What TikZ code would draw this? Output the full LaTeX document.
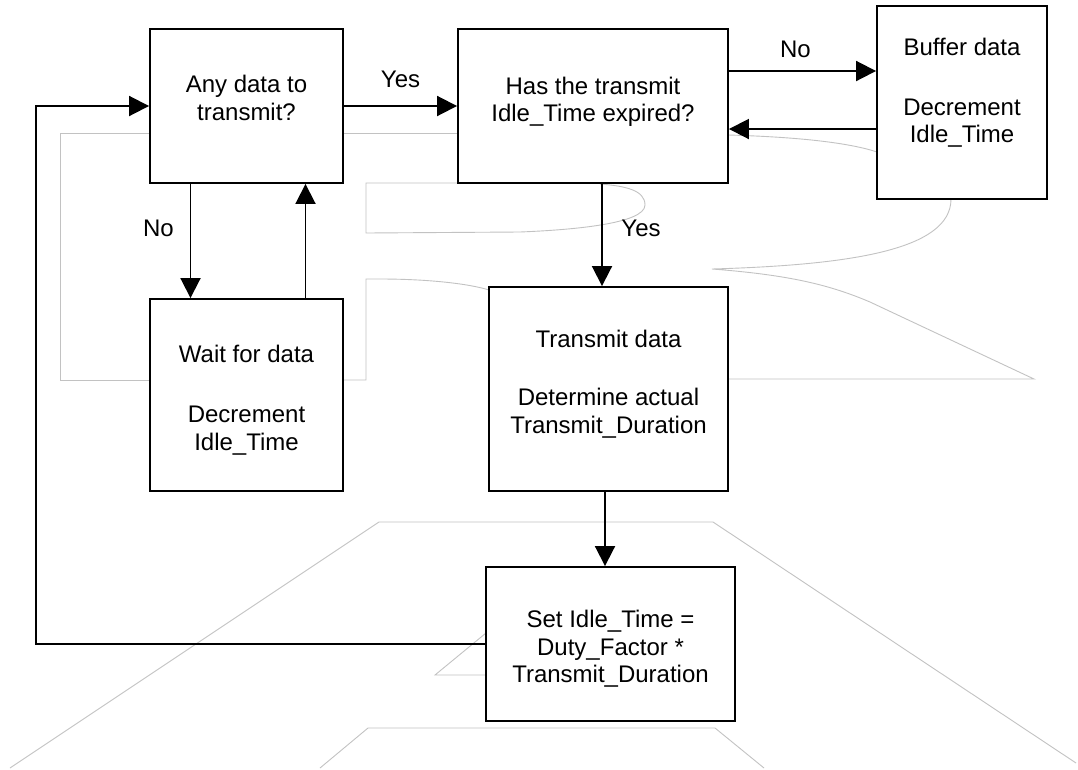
\documentclass[tikz,border=0pt]{standalone}
\usepackage{fontspec}
\setmainfont{Liberation Sans}
\usetikzlibrary{arrows.meta,positioning}

\begin{document}
\begin{tikzpicture}[x=1pt,y=-1pt,>={Triangle[length=20pt,width=20pt]},line width=1.9pt,
  font=\fontsize{24}{27.5}\selectfont,
  box/.style={draw,fill=white,inner sep=0pt},
  txt/.style={align=center},
  ghost/.style={draw=black!24,line width=0.9pt}]
\useasboundingbox (0,0) rectangle (1078,769);

% faint lines left over in the background
\path[ghost] (150,133) -- (60,133) -- (60,380) -- (150,380);
\path[ghost] (343,133) -- (458,133);
\path[ghost] (343,380) -- (366,380) -- (366,279) -- (380,279) .. controls (430,279) and (470,284) .. (489,290);
\path[ghost] (458,183) -- (366,183) -- (366,233) -- (520,232) .. controls (570,230) and (645,224) .. (645,205) .. controls (645,190) and (625,186) .. (600,184);
\path[ghost] (728,135) .. controls (800,137) and (850,143) .. (877,152);
\path[ghost] (951,199) .. controls (951,250) and (850,265) .. (712,269) .. controls (790,275) and (830,285) .. (870,302) -- (1034,379) -- (728,379);
\path[ghost] (10,768) -- (379,522) -- (713,522) -- (1076,763);
\path[ghost] (486,633) -- (435,675) -- (486,675);
\path[ghost] (320,768) -- (368,728) -- (715,728) -- (764,768);

\node[box,minimum width=193pt,minimum height=154pt,label={[txt,yshift=8pt]center:Any data to\\transmit?}] (anyd) at (246.5,106) {};
\node[box,minimum width=270pt,minimum height=154pt,label={[txt,yshift=4pt]center:Has the transmit\\Idle\_Time expired?}] (expd) at (593,106) {};
\node[box,minimum width=170pt,minimum height=193pt,label={[txt,yshift=10pt]center:Buffer data\\[32.5pt]Decrement\\Idle\_Time}] (buff) at (962,102.5) {};
\node[box,minimum width=193pt,minimum height=192pt,label={[txt,yshift=-5pt]center:Wait for data\\[32.5pt]Decrement\\Idle\_Time}] (waitd) at (246.5,395) {};
\node[box,minimum width=239pt,minimum height=204pt,label={[txt,yshift=5pt]center:Transmit data\\[30.5pt]Determine actual\\Transmit\_Duration}] (xmit) at (608.5,389) {};
\node[box,minimum width=249pt,minimum height=154pt,label={[txt,yshift=-5pt]center:Set Idle\_Time =\\Duty\_Factor *\\Transmit\_Duration}] (setd) at (610.5,644) {};
\coordinate (lp) at (36,644);

\draw[->] (anyd.east) -- (expd.west) node[midway,yshift=27pt] {Yes};
\draw[->] ([yshift=35pt]expd.east) -- ([yshift=35pt]expd.east -| buff.west) node[midway,xshift=-7pt,yshift=22pt] {No};
\draw[->] ([yshift=-23pt]expd.east -| buff.west) -- ([yshift=-23pt]expd.east);
\draw[->] ([xshift=-56pt]anyd.south) -- ([xshift=-56pt]anyd.south |- waitd.north) node[midway,xshift=-32pt,yshift=13pt] {No};
\draw[->] ([xshift=59pt]anyd.south |- waitd.north) -- ([xshift=59pt]anyd.south);
\draw[->] ([xshift=9pt]expd.south) -- ([xshift=9pt]expd.south |- xmit.north) node[midway,xshift=39pt,yshift=7pt] {Yes};
\draw[->] ([xshift=-3.5pt]xmit.south) -- ([xshift=-3.5pt]xmit.south |- setd.north);
\draw[->] (setd.west) -- (lp) |- (anyd.west);
\end{tikzpicture}
\end{document}
